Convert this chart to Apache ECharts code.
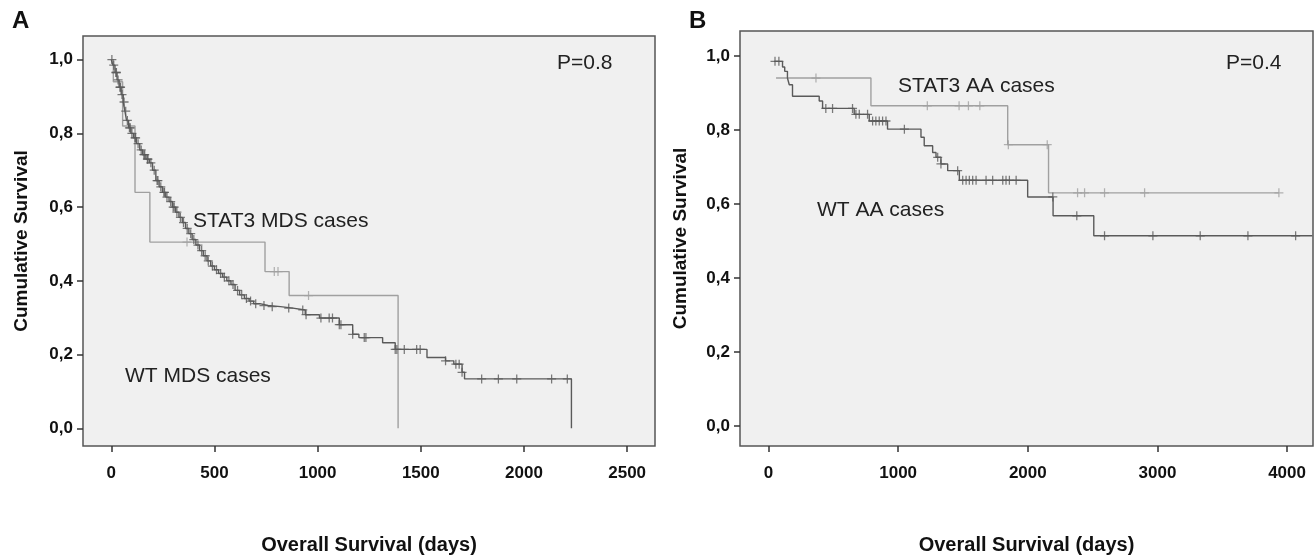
<!DOCTYPE html>
<html><head><meta charset="utf-8">
<script src="https://cdn.jsdelivr.net/npm/echarts@6/dist/echarts.min.js"></script>
<style>html,body{margin:0;padding:0;background:#fff}#c{width:1315px;height:560px}</style>
</head><body><div id="c"></div>
<script>
// ---- tick labels ----
const xTicksA = [0, 500, 1000, 1500, 2000, 2500];
const xTicksB = [0, 1000, 2000, 3000, 4000];
const yTicks = [0, 0.2, 0.4, 0.6, 0.8, 1.0];
const yTickLabels = ['0,0', '0,2', '0,4', '0,6', '0,8', '1,0'];

// ---- Panel A: MDS ----
const wtMdsDays = [0, 8, 18, 28, 38, 48, 58, 66, 74, 84, 95, 108, 122, 138, 152, 168, 185, 200, 216, 232, 248, 264, 280, 296, 312, 328, 344, 360, 376, 392, 410, 428, 446, 464, 482, 500, 520, 540, 560, 580, 600, 622, 645, 668, 690, 720, 760, 820, 880, 940, 1009, 1105, 1170, 1200, 1315, 1376, 1530, 1620, 1660, 1700, 1712, 2230];
const wtMdsSurv = [1.0, 0.985, 0.965, 0.945, 0.925, 0.905, 0.885, 0.86, 0.835, 0.815, 0.8, 0.788, 0.772, 0.755, 0.742, 0.73, 0.72, 0.7, 0.672, 0.655, 0.64, 0.627, 0.615, 0.6, 0.586, 0.572, 0.558, 0.542, 0.528, 0.512, 0.497, 0.482, 0.468, 0.454, 0.44, 0.43, 0.42, 0.41, 0.4, 0.39, 0.374, 0.362, 0.352, 0.345, 0.338, 0.333, 0.33, 0.326, 0.321, 0.308, 0.299, 0.281, 0.255, 0.246, 0.232, 0.214, 0.192, 0.183, 0.174, 0.152, 0.134, 0];
const wtMdsCensored = [3, 12, 22, 25, 33, 42, 45, 52, 62, 70, 78, 88, 92, 100, 115, 118, 130, 145, 158, 162, 175, 178, 192, 208, 222, 226, 240, 255, 258, 270, 288, 300, 305, 318, 335, 350, 368, 385, 400, 420, 438, 455, 470, 490, 510, 530, 548, 570, 590, 612, 632, 655, 675, 700, 740, 780, 860, 928, 944, 1016, 1056, 1072, 1105, 1113, 1170, 1226, 1234, 1376, 1384, 1420, 1480, 1497, 1620, 1670, 1686, 1700, 1795, 1876, 1965, 2134, 2210];

const stat3MdsDays = [0, 10, 55, 115, 187, 745, 862, 1390];
const stat3MdsSurv = [1.0, 0.94, 0.82, 0.64, 0.505, 0.425, 0.36, 0];
const stat3MdsCensored = [367, 790, 808, 956];

// ---- Panel B: AA ----
const wtAaDays = [43, 108, 125, 146, 160, 185, 391, 417, 661, 777, 918, 1176, 1201, 1266, 1292, 1330, 1382, 1472, 1999, 2195, 2509, 4195];
const wtAaSurv = [0.985, 0.97, 0.958, 0.94, 0.922, 0.891, 0.878, 0.858, 0.842, 0.824, 0.802, 0.78, 0.757, 0.739, 0.726, 0.708, 0.69, 0.664, 0.619, 0.568, 0.514, 0.514];
const wtAaCensored = [50, 80, 442, 494, 648, 674, 700, 764, 803, 828, 854, 880, 906, 1048, 1305, 1330, 1459, 1498, 1524, 1549, 1575, 1601, 1678, 1729, 1807, 1832, 1858, 1910, 2193, 2378, 2592, 2965, 3330, 3698, 4066];

const stat3AaDays = [58, 790, 1845, 2160, 3937];
const stat3AaSurv = [0.94, 0.865, 0.76, 0.63, 0.63];
const stat3AaCensored = [366, 1225, 1470, 1542, 1630, 1850, 2150, 2384, 2438, 2592, 2901, 3937];

// ---- helpers ----
function stepData(days, surv) { return days.map((d, i) => [d, surv[i]]); }
function survAt(days, surv, t) {
  let s = surv[0];
  for (let i = 0; i < days.length; i++) { if (days[i] <= t) s = surv[i]; else break; }
  return s;
}
function censorData(cens, days, surv) { return cens.map(t => [t, survAt(days, surv, t)]); }

const PLUS = 'path://M-0.7,-5H0.7V-0.7H5V0.7H0.7V5H-0.7V0.7H-5V-0.7H-0.7Z';
const DARK = '#5a5a5a', LIGHT = '#a0a0a0';
const FONT = '"Liberation Sans", Arial, sans-serif';

function xAxisCfg(gi, min, max, ticks) {
  return {
    gridIndex: gi, type: 'value', min: min, max: max,
    axisLine: { show: false, onZero: false },
    axisTick: { show: true, customValues: ticks, length: 6, lineStyle: { color: '#333', width: 1.5 } },
    axisLabel: { customValues: ticks, fontWeight: 'bold', fontSize: 17, color: '#111', margin: 19, fontFamily: FONT,
      formatter: v => String(Math.round(v)) },
    splitLine: { show: false },
    name: 'Overall Survival (days)', nameLocation: 'middle', nameGap: 89,
    nameTextStyle: { fontWeight: 'bold', fontSize: 20, color: '#111', fontFamily: FONT }
  };
}
function yAxisCfg(gi, min, max, gap) {
  return {
    gridIndex: gi, type: 'value', min: min, max: max,
    axisLine: { show: false, onZero: false },
    axisTick: { show: true, customValues: yTicks, length: 6, lineStyle: { color: '#333', width: 1.5 } },
    axisLabel: {
      customValues: yTicks, fontWeight: 'bold', fontSize: 17, color: '#111', margin: 10, fontFamily: FONT,
      formatter: v => { const i = yTicks.findIndex(t => Math.abs(t - v) < 1e-6); return i >= 0 ? yTickLabels[i] : ''; }
    },
    splitLine: { show: false },
    name: 'Cumulative Survival', nameLocation: 'middle', nameGap: gap, nameRotate: 90,
    nameTextStyle: { fontWeight: 'bold', fontSize: 19, color: '#111', fontFamily: FONT }
  };
}
function lineS(gi, data, color) {
  return { type: 'line', xAxisIndex: gi, yAxisIndex: gi, data: data, step: 'end', showSymbol: false,
    lineStyle: { color: color, width: 1.4 }, itemStyle: { color: color }, silent: true, z: 2 };
}
function censS(gi, data, color, size) {
  return { type: 'scatter', xAxisIndex: gi, yAxisIndex: gi, data: data, symbol: PLUS, symbolSize: size,
    itemStyle: { color: color }, silent: true, z: 3 };
}
function txt(x, y, text, size, weight, color) {
  return { type: 'text', x: x, y: y, z: 10,
    style: { text: text, font: (weight || 'normal') + ' ' + size + 'px ' + FONT, fill: color || '#222', textVerticalAlign: 'middle' } };
}

const chart = echarts.init(document.getElementById('c'), null, { renderer: 'canvas' });
chart.setOption({
  animation: false,
  backgroundColor: '#fff',
  grid: [
    { left: 83, top: 36, width: 572, height: 417, show: true, backgroundColor: '#f0f0f0', borderColor: '#555', borderWidth: 1.5 },
    { left: 740, top: 31, width: 573, height: 419, show: true, backgroundColor: '#f0f0f0', borderColor: '#555', borderWidth: 1.5 }
  ],
  xAxis: [xAxisCfg(0, -137, 2635, xTicksA), xAxisCfg(1, -220, 4200, xTicksB)],
  yAxis: [yAxisCfg(0, -0.048, 1.064, 52), yAxisCfg(1, -0.0535, 1.067, 50)],
  series: [
    lineS(0, stepData(stat3MdsDays, stat3MdsSurv), LIGHT),
    censS(0, censorData(stat3MdsCensored, stat3MdsDays, stat3MdsSurv), LIGHT, 9),
    lineS(0, stepData(wtMdsDays, wtMdsSurv), DARK),
    censS(0, censorData(wtMdsCensored, wtMdsDays, wtMdsSurv), DARK, 9),
    lineS(1, stepData(stat3AaDays, stat3AaSurv), LIGHT),
    censS(1, censorData(stat3AaCensored, stat3AaDays, stat3AaSurv), LIGHT, 9),
    lineS(1, stepData(wtAaDays, wtAaSurv), DARK),
    censS(1, censorData(wtAaCensored, wtAaDays, wtAaSurv), DARK, 9)
  ],
  graphic: [
    txt(12, 21, 'A', 24, 'bold', '#111'),
    txt(689, 21, 'B', 24, 'bold', '#111'),
    txt(557, 63, 'P=0.8', 21),
    txt(1226, 63, 'P=0.4', 21),
    txt(193, 221, 'STAT3 MDS cases', 21),
    txt(125, 376, 'WT MDS cases', 21),
    txt(898, 86, 'STAT3 AA cases', 21),
    txt(817, 210, 'WT AA cases', 21)
  ]
});
</script></body></html>
